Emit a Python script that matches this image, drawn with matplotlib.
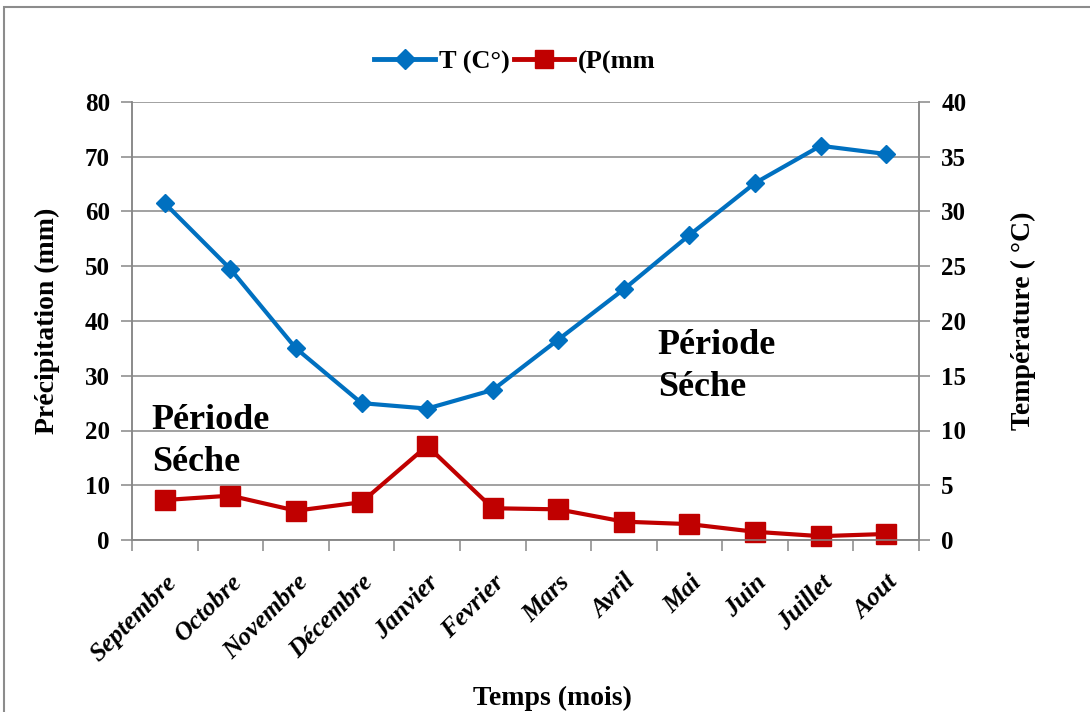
import matplotlib
matplotlib.use("Agg")
import matplotlib.pyplot as plt
from matplotlib.patches import Rectangle
from matplotlib.lines import Line2D
import numpy as np

months = ["Septembre", "Octobre", "Novembre", "Décembre", "Janvier", "Fevrier",
          "Mars", "Avril", "Mai", "Juin", "Juillet", "Aout"]
temperature = [30.75, 24.75, 17.5, 12.5, 12.0, 13.7, 18.3, 22.9, 27.85, 32.6, 36.0, 35.25]
precipitation = [7.3, 8.1, 5.35, 6.9, 17.2, 5.8, 5.6, 3.35, 2.9, 1.5, 0.7, 1.1]
p_ticks = [0, 10, 20, 30, 40, 50, 60, 70, 80]
t_ticks = [0, 5, 10, 15, 20, 25, 30, 35, 40]

BLUE = "#0070C0"
RED = "#C00000"
GRID = "#878787"
FONT = "Liberation Serif"

plt.rcParams['font.family'] = [FONT, 'DejaVu Serif']

fig = plt.figure(figsize=(10.9, 7.12), dpi=100)
ax = fig.add_axes([132/1090, 1-540/712, (919-132)/1090, (540-102)/712])
ax2 = ax.twinx()

x = np.arange(len(months))

ax.set_xlim(-0.5, len(months) - 0.5)
ax.set_ylim(0, 80)
ax2.set_ylim(0, 40)

ax.set_yticks(p_ticks)
ax2.set_yticks(t_ticks)
ax.yaxis.grid(True, color=GRID, lw=1.1)
ax.set_axisbelow(True)

# x ticks at category boundaries, labels at centres
ax.set_xticks(np.arange(-0.5, len(months) + 0.5, 1.0))
ax.set_xticklabels([])
ax.set_xticks(x, minor=True)
ax.set_xticklabels(months, minor=True, rotation=45, ha='right', va='top',
                   rotation_mode='anchor', fontsize=18.5, fontweight='bold', fontstyle='italic')
ax.tick_params(axis='x', which='minor', length=0, pad=22)
ax.tick_params(axis='x', which='major', length=8, width=1.1, color=GRID, direction='out')
ax.tick_params(axis='y', length=8, width=1.1, color=GRID, labelsize=18, pad=8)
ax2.tick_params(axis='y', length=8, width=1.1, color=GRID, labelsize=18, pad=8)
for a in (ax, ax2):
    for lab in a.get_yticklabels():
        lab.set_fontweight('bold')
    for side in ('left', 'right', 'bottom'):
        a.spines[side].set_color(GRID)
        a.spines[side].set_linewidth(1.1)
    a.spines['top'].set_visible(False)

p_line, = ax.plot(x, precipitation, color=RED, lw=3, marker='s', ms=14,
                  markeredgecolor=RED, zorder=3, clip_on=False)
t_line, = ax2.plot(x, temperature, color=BLUE, lw=3, marker='D', ms=9,
                   markeredgecolor=BLUE, zorder=3, clip_on=False)

ax.set_ylabel("Précipitation (mm)", fontsize=20, fontweight='bold', labelpad=18)
ax2.set_ylabel("Température ( °C)", fontsize=20, fontweight='bold', labelpad=32)
ax.set_xlabel("Temps (mois)", fontsize=20, fontweight='bold')
ax.xaxis.set_label_coords(0.534, -0.333)

ax.text(0.025, 0.310, "Période\nSéche", transform=ax.transAxes, fontsize=26,
        fontweight='bold', ha='left', va='top', linespacing=1.35, zorder=5)
ax.text(0.668, 0.482, "Période\nSéche", transform=ax.transAxes, fontsize=26,
        fontweight='bold', ha='left', va='top', linespacing=1.35, zorder=5)

handles = [Line2D([], [], color=BLUE, lw=3.5, marker='D', ms=10),
           Line2D([], [], color=RED, lw=3.5, marker='s', ms=13)]
fig.legend(handles, ["T (C°)", "(P(mm"], loc='center', bbox_to_anchor=(515/1090, 1-62/712),
           ncol=2, frameon=False, handlelength=2.3, handletextpad=0.15, columnspacing=0.15,
           prop={'family': FONT, 'weight': 'bold', 'size': 19})

fig.patches.append(Rectangle((4/1090, -0.05), 1.2, 1.05 - 7/712, transform=fig.transFigure,
                             facecolor='none', edgecolor='#8c8c8c', lw=1.5))

fig.savefig("out.png", dpi=100)
